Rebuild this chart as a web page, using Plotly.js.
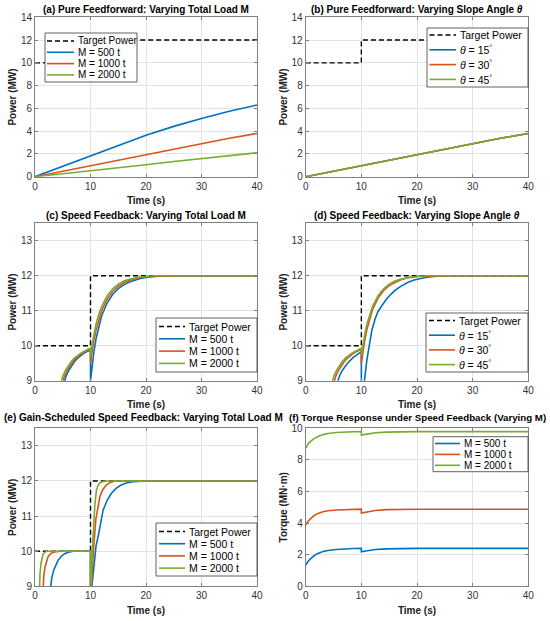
<!DOCTYPE html>
<html>
<head>
<meta charset="utf-8">
<script src="https://cdn.plot.ly/plotly-3.0.1.min.js"></script>
<style>html,body{margin:0;padding:0;background:#fff}#chart{width:550px;height:621px}</style>
</head>
<body>
<div id="chart"></div>
<script>
// ---------------- DATA ----------------
const targetT = [0, 10, 10, 40];
const targetP = [10, 10, 12, 12];

// (a) Pure feedforward, varying M
const tA = [0, 5, 10, 15, 20, 25, 30, 35, 40];
const pA500  = [0, 0.92, 1.85, 2.78, 3.65, 4.42, 5.12, 5.75, 6.3];
const pA1000 = [0, 0.48, 0.97, 1.48, 1.98, 2.46, 2.92, 3.37, 3.8];
const pA2000 = [0, 0.25, 0.5, 0.78, 1.05, 1.33, 1.6, 1.85, 2.1];

// (b) Pure feedforward, varying theta (curves coincide)
const tB = [0, 5, 10, 15, 20, 25, 30, 35, 40];
const pB15 = [0, 0.48, 0.97, 1.48, 1.98, 2.46, 2.92, 3.37, 3.8];
const pB30 = [0, 0.48, 0.97, 1.48, 1.98, 2.46, 2.92, 3.37, 3.8];
const pB45 = [0, 0.48, 0.97, 1.48, 1.98, 2.46, 2.92, 3.37, 3.8];

// (c) Speed feedback, varying M
const tC500  = [0, 5.3, 5.6, 6.1, 6.6, 7.1, 7.6, 8.1, 8.6, 9.1, 9.6, 10, 10, 10.3, 10.6, 11, 11.5, 12, 13, 14, 15, 16, 17, 18, 19, 20, 21, 22, 25, 40];
const pC500  = [6, 9.0, 9.13, 9.3, 9.43, 9.54, 9.63, 9.7, 9.76, 9.81, 9.85, 9.88, 9.0, 9.45, 9.8, 10.2, 10.55, 10.85, 11.22, 11.47, 11.63, 11.74, 11.82, 11.88, 11.92, 11.95, 11.97, 11.99, 12, 12];
const tC1000 = [0, 5.0, 5.3, 5.8, 6.3, 6.8, 7.3, 7.8, 8.3, 8.8, 9.3, 10, 10, 10.3, 10.6, 11, 11.5, 12, 13, 14, 15, 16, 17, 18, 19, 20, 22, 25, 40];
const pC1000 = [6, 9.0, 9.13, 9.3, 9.43, 9.54, 9.63, 9.7, 9.76, 9.81, 9.86, 9.91, 9.5, 9.85, 10.15, 10.45, 10.75, 11.0, 11.33, 11.56, 11.7, 11.8, 11.87, 11.92, 11.95, 11.97, 11.99, 12, 12];
const tC2000 = [0, 4.7, 5.0, 5.5, 6, 6.5, 7, 7.5, 8, 8.5, 9, 9.5, 10, 10, 10.3, 10.6, 11, 11.5, 12, 13, 14, 15, 16, 17, 18, 19, 20, 22, 25, 40];
const pC2000 = [6, 9.0, 9.13, 9.3, 9.43, 9.54, 9.63, 9.7, 9.76, 9.81, 9.86, 9.9, 9.93, 9.7, 10.05, 10.32, 10.62, 10.9, 11.12, 11.43, 11.63, 11.76, 11.85, 11.9, 11.94, 11.97, 11.98, 12, 12, 12];

// (d) Speed feedback, varying theta
const tD15 = [0, 5.75, 6.1, 6.6, 7.5, 8.5, 9.3, 10, 10, 10.55, 11, 11.4, 11.9, 12.5, 13, 13.7, 14.5, 15.3, 16.1, 17, 18, 18.5, 19.5, 20.5, 21.5, 23, 25, 40];
const pD15 = [6, 9.0, 9.15, 9.3, 9.5, 9.66, 9.76, 9.83, 7.5, 9.0, 9.6, 9.98, 10.45, 10.78, 10.98, 11.15, 11.33, 11.47, 11.59, 11.69, 11.78, 11.82, 11.88, 11.92, 11.95, 11.98, 12, 12];
const tD30 = [0, 5.1, 5.4, 5.9, 6.4, 6.9, 7.4, 7.9, 8.4, 8.9, 9.4, 10, 10, 10.3, 10.6, 11, 11.5, 12, 13, 14, 15, 16, 17, 18, 19, 20, 22, 25, 40];
const pD30 = [6, 9.0, 9.13, 9.3, 9.43, 9.54, 9.63, 9.7, 9.76, 9.81, 9.86, 9.9, 9.5, 9.85, 10.15, 10.47, 10.78, 11.03, 11.36, 11.58, 11.72, 11.81, 11.88, 11.93, 11.96, 11.98, 11.99, 12, 12];
const tD45 = [0, 4.75, 5.05, 5.55, 6.05, 6.55, 7.05, 7.55, 8.05, 8.55, 9.05, 9.55, 10, 10, 10.3, 10.6, 11, 11.5, 12, 13, 14, 15, 16, 17, 18, 19, 20, 22, 25, 40];
const pD45 = [6, 9.0, 9.13, 9.3, 9.43, 9.54, 9.63, 9.7, 9.76, 9.81, 9.86, 9.9, 9.93, 9.72, 10.05, 10.32, 10.62, 10.9, 11.12, 11.43, 11.63, 11.76, 11.85, 11.9, 11.94, 11.97, 11.98, 12, 12, 12];

// (e) Gain-scheduled speed feedback, varying M
const tE500  = [0, 2.77, 3.0, 3.37, 3.75, 4.15, 4.7, 5.35, 6.0, 6.86, 10, 10, 10.25, 10.7, 11.0, 11.37, 11.8, 12.27, 13.0, 13.78, 14.6, 15.6, 16.6, 17.7, 20, 40];
const pE500  = [5, 9.0, 9.22, 9.46, 9.62, 9.74, 9.85, 9.93, 9.97, 10.0, 10.0, 8.5, 9.0, 9.8, 10.15, 10.41, 10.8, 11.17, 11.45, 11.65, 11.79, 11.89, 11.95, 11.98, 12, 12];
const tE1000 = [0, 1.45, 1.6, 1.8, 2.05, 2.35, 2.8, 3.25, 4.5, 10, 10, 10.15, 10.5, 10.95, 11.3, 11.68, 12.2, 12.88, 13.6, 14.4, 40];
const pE1000 = [5, 9.0, 9.32, 9.55, 9.72, 9.84, 9.93, 9.97, 10.0, 10.0, 8.5, 9.0, 9.95, 10.89, 11.28, 11.55, 11.75, 11.89, 11.96, 12, 12];
const tE2000 = [0, 0.8, 0.9, 1.08, 1.25, 1.44, 1.7, 2.05, 10, 10, 10.1, 10.35, 10.6, 10.8, 11.07, 11.35, 11.68, 12.1, 12.6, 40];
const pE2000 = [5, 9.0, 9.35, 9.65, 9.8, 9.91, 9.96, 10.0, 10.0, 8.5, 9.0, 10.1, 10.89, 11.35, 11.74, 11.87, 11.95, 11.98, 12, 12];

// (f) Torque response under speed feedback, varying M
const tF = [0, 0.5, 1.3, 2, 3.1, 4, 5.5, 7, 8.5, 10, 10, 10.5, 11.5, 12.5, 14.5, 17, 20, 40];
const qF500  = [1.35, 1.62, 1.88, 2.05, 2.2, 2.27, 2.33, 2.37, 2.39, 2.4, 2.18, 2.22, 2.28, 2.33, 2.37, 2.39, 2.4, 2.4];
const qF1000 = [3.88, 4.15, 4.42, 4.58, 4.72, 4.78, 4.83, 4.86, 4.87, 4.88, 4.64, 4.68, 4.75, 4.8, 4.85, 4.87, 4.88, 4.88];
const qF2000 = [8.75, 9.05, 9.3, 9.45, 9.6, 9.67, 9.73, 9.77, 9.78, 9.79, 9.57, 9.6, 9.67, 9.72, 9.76, 9.78, 9.79, 9.79];

// labels
const panelTitles = [
  "(a) Pure Feedforward: Varying Total Load M",
  "(b) Pure Feedforward: Varying Slope Angle <i>θ</i>",
  "(c) Speed Feedback: Varying Total Load M",
  "(d) Speed Feedback: Varying Slope Angle <i>θ</i>",
  "(e) Gain-Scheduled Speed Feedback: Varying Total Load M",
  "(f) Torque Response under Speed Feedback (Varying M)"
];
const targetLabel = "Target Power";
const massLabels = ["M = 500 t", "M = 1000 t", "M = 2000 t"];
const angleLabels = ["<i>θ</i> = 15<sup>°</sup>", "<i>θ</i> = 30<sup>°</sup>", "<i>θ</i> = 45<sup>°</sup>"];
const xLabel = "Time (s)";
const yPowerLabel = "Power (MW)";
const yTorqueLabel = "Torque (MN·m)";
const xTicks = [0, 10, 20, 30, 40];

// ---------------- STYLE ----------------
const W = 550, H = 621;
const FONT = "Liberation Sans, Arial, Helvetica, sans-serif";
const C = ["#0072BD", "#D95319", "#77AC30"];
const LW = 1.6;
const px = x => x / W;
const py = y => 1 - y / H;

const colDom = [[35, 257], [305.7, 528.3]];
const rowDom = [[17.3, 176.7], [223.3, 380.7], [428.3, 586.3]];
// title placement (panels e/f are adjusted so they fit side by side, as in the reference)
const titleCenters = [146, 417, 146, 417, 143.5, 417];
const titleSizes = [10, 10, 10, 10, 10, 9.7];
const titleGap = [1.5, 1.5, 1.5, 1.5, 4.5, 4.5];

const data = [];
function line(x, y, color, name, axN, dash) {
  const s = axN === 1 ? "" : String(axN);
  data.push({
    type: "scatter", mode: "lines", x: x, y: y, name: name,
    xaxis: "x" + s, yaxis: "y" + s, showlegend: false,
    line: {color: color, width: dash ? 1.4 : LW, dash: dash || "solid"},
    hoverinfo: "x+y+name"
  });
}
const DASH = "5px,3px";

// (a)
line(targetT, targetP, "#000", targetLabel, 1, DASH);
line(tA, pA500, C[0], massLabels[0], 1);
line(tA, pA1000, C[1], massLabels[1], 1);
line(tA, pA2000, C[2], massLabels[2], 1);
// (b)
line(targetT, targetP, "#000", targetLabel, 2, DASH);
line(tB, pB15, C[0], angleLabels[0], 2);
line(tB, pB30, C[1], angleLabels[1], 2);
line(tB, pB45, C[2], angleLabels[2], 2);
// (c)
line(targetT, targetP, "#000", targetLabel, 3, DASH);
line(tC500, pC500, C[0], massLabels[0], 3);
line(tC1000, pC1000, C[1], massLabels[1], 3);
line(tC2000, pC2000, C[2], massLabels[2], 3);
// (d)
line(targetT, targetP, "#000", targetLabel, 4, DASH);
line(tD15, pD15, C[0], angleLabels[0], 4);
line(tD30, pD30, C[1], angleLabels[1], 4);
line(tD45, pD45, C[2], angleLabels[2], 4);
// (e)
line(targetT, targetP, "#000", targetLabel, 5, DASH);
line(tE500, pE500, C[0], massLabels[0], 5);
line(tE1000, pE1000, C[1], massLabels[1], 5);
line(tE2000, pE2000, C[2], massLabels[2], 5);
// (f)
line(tF, qF500, C[0], massLabels[0], 6);
line(tF, qF1000, C[1], massLabels[1], 6);
line(tF, qF2000, C[2], massLabels[2], 6);

// axes
const layout = {
  width: W, height: H,
  margin: {l: 0, r: 0, t: 0, b: 0},
  paper_bgcolor: "#fff", plot_bgcolor: "#fff",
  font: {family: FONT, size: 10, color: "#262626"},
  showlegend: false,
  shapes: [], annotations: []
};
const yRanges = [[0, 14], [0, 14], [9, 13.5], [9, 13.5], [9, 13.5], [0, 10]];
const yDticks = [2, 2, 1, 1, 1, 2];
const yTitles = [yPowerLabel, yPowerLabel, yPowerLabel, yPowerLabel, yPowerLabel, yTorqueLabel];
for (let i = 0; i < 6; i++) {
  const n = i + 1, s = n === 1 ? "" : String(n);
  const col = i % 2, row = Math.floor(i / 2);
  const common = {
    showline: true, linecolor: "#808080", linewidth: 1, mirror: "ticks",
    ticks: "inside", ticklen: 3, tickcolor: "#808080", tickwidth: 1,
    showgrid: true, gridcolor: "#e3e3e3", gridwidth: 1, zeroline: false,
    tickfont: {family: FONT, size: 10, color: "#333"}, fixedrange: true
  };
  layout["xaxis" + s] = Object.assign({}, common, {
    domain: [px(colDom[col][0]), px(colDom[col][1])],
    anchor: "y" + s, range: [0, 40], tickvals: xTicks,
    title: {text: "<b>" + xLabel + "</b>", font: {family: FONT, size: 10, color: "#222"}, standoff: 6}
  });
  layout["yaxis" + s] = Object.assign({}, common, {
    domain: [py(rowDom[row][1]), py(rowDom[row][0])],
    anchor: "x" + s, range: yRanges[i], dtick: yDticks[i],
    title: {text: "<b>" + yTitles[i] + "</b>", font: {family: FONT, size: 10, color: "#222"}, standoff: 2}
  });
  // panel title
  layout.annotations.push({
    xref: "paper", yref: "paper", showarrow: false,
    x: px(titleCenters[i]), y: py(rowDom[row][0] - titleGap[i]),
    xanchor: "center", yanchor: "bottom", borderpad: 0,
    text: "<b>" + panelTitles[i] + "</b>",
    font: {family: FONT, size: titleSizes[i], color: "#000"}
  });
}

// custom MATLAB-like legends
function legendBox(spec) {
  const {left, top, width, height, first, step, lineL, lineR, textX, entries, fs} = spec;
  layout.shapes.push({
    type: "rect", xref: "paper", yref: "paper", layer: "above",
    x0: px(left), x1: px(left + width), y0: py(top + height), y1: py(top),
    fillcolor: "#fff", line: {color: "#3a3a3a", width: 0.8}
  });
  entries.forEach((e, k) => {
    const yy = top + first + k * step;
    layout.shapes.push({
      type: "line", xref: "paper", yref: "paper", layer: "above",
      x0: px(left + lineL), x1: px(left + lineR), y0: py(yy), y1: py(yy),
      line: {color: e.color, width: e.dash ? 1.4 : LW, dash: e.dash || "solid"}
    });
    layout.annotations.push({
      xref: "paper", yref: "paper", showarrow: false,
      x: px(left + textX), y: py(yy), xanchor: "left", yanchor: "middle",
      text: e.text, font: {family: FONT, size: fs, color: "#000"}
    });
  });
}
const massEntries = [{text: targetLabel, color: "#000", dash: DASH}].concat(massLabels.map((t, k) => ({text: t, color: C[k]})));
const angleEntries = [{text: targetLabel, color: "#000", dash: DASH}].concat(angleLabels.map((t, k) => ({text: t, color: C[k]})));
const massOnly = massLabels.map((t, k) => ({text: t, color: C[k]}));

legendBox({left: 45, top: 33, width: 92, height: 49, first: 8, step: 11.3, lineL: 2, lineR: 29, textX: 31, entries: massEntries, fs: 10});
legendBox({left: 427, top: 28, width: 101, height: 59, first: 7, step: 14.8, lineL: 2.5, lineR: 29, textX: 31, entries: angleEntries, fs: 10.5});
legendBox({left: 156, top: 318, width: 101, height: 54, first: 8.5, step: 12.3, lineL: 3, lineR: 29, textX: 31, entries: massEntries, fs: 10.5});
legendBox({left: 426, top: 313, width: 102, height: 59, first: 7.5, step: 14.7, lineL: 3, lineR: 29, textX: 31, entries: angleEntries, fs: 10.5});
legendBox({left: 156, top: 523, width: 101, height: 53, first: 8.5, step: 12.2, lineL: 3, lineR: 29, textX: 31, entries: massEntries, fs: 10.5});
legendBox({left: 433, top: 436.7, width: 95, height: 35, first: 6.8, step: 10.9, lineL: 2, lineR: 27, textX: 28.5, entries: massOnly, fs: 10});

Plotly.newPlot("chart", data, layout, {displayModeBar: false, responsive: false});
</script>
</body>
</html>
